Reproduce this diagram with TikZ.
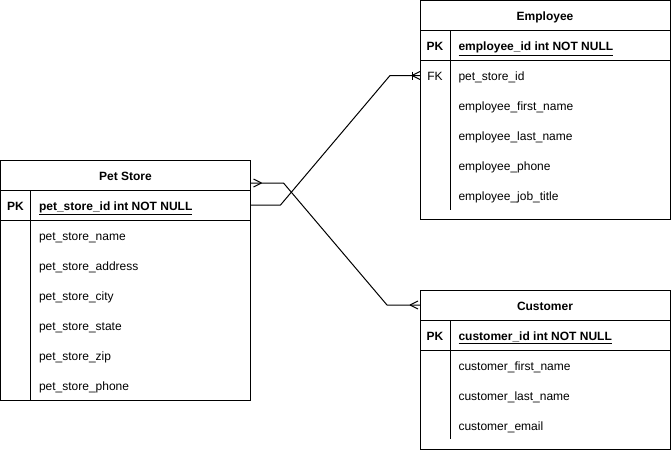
\documentclass[tikz,border=0pt]{standalone}
\usepackage{fontspec}
\setmainfont{Liberation Sans}
\usetikzlibrary{positioning,calc}
\tikzset{
txt/.style = {font=\fontsize{9}{11}\selectfont, inner sep=0pt, text height=8pt, text depth=0.4pt},
bold/.style = {font=\fontsize{9}{11}\selectfont\bfseries, inner sep=0pt, text height=8pt, text depth=0.4pt},
head/.style = {draw, rectangle, bold, outer sep=0pt, minimum width=187.5pt, minimum height=22.5pt},
keyrow/.style = {draw, rectangle, outer sep=0pt, inner sep=0pt, minimum width=187.5pt, minimum height=22.5pt},
body/.style = {draw, rectangle, outer sep=0pt, inner sep=0pt, minimum width=187.5pt},
field/.style = {anchor=west},
crowfoot/.pic = {\draw (0,0) -- (8,-4) (0,0) -- (8,4);}
}
\begin{document}
\begin{tikzpicture}[x=0.75pt, y=-0.75pt, line width=0.75pt]
\useasboundingbox (0,0) rectangle (671,451);
% Pet Store
\node[head] (pstitle) at (125.5,175) {Pet Store};
\node[keyrow, below=0pt of pstitle] (pspk) {};
\node[body, below=0pt of pspk, minimum height=135pt] (psbody) {};
\draw ($(pspk.north west)+(30,0)$) -- ($(psbody.south west)+(30,0)$);
\node[bold] (pskey) at ($(pspk.west)+(15,0)$) {PK};
\node[bold, field] (psid) at ($(pspk.west)+(38,0)$) {\underline{pet\_store\_id int NOT NULL}};
\foreach \f [count=\i] in {pet\_store\_name, pet\_store\_address, pet\_store\_city, pet\_store\_state, pet\_store\_zip, pet\_store\_phone}
  \node[txt, field] (psf\i) at ($(psbody.north west)+(38,30*\i-15)$) {\f};
% Employee
\node[head] (emtitle) at (545,15.5) {Employee};
\node[keyrow, below=0pt of emtitle] (empk) {};
\node[body, below=0pt of empk, minimum height=119.25pt] (embody) {};
\draw ($(empk.north west)+(30,0)$) -- ($(embody.south west)+(30,-10)$);
\node[bold] (emkey) at ($(empk.west)+(15,0)$) {PK};
\node[bold, field] (emid) at ($(empk.west)+(38,0)$) {\underline{employee\_id int NOT NULL}};
\node[txt] (emfk) at ($(embody.north west)+(15,15)$) {FK};
\foreach \f [count=\i] in {pet\_store\_id, employee\_first\_name, employee\_last\_name, employee\_phone, employee\_job\_title}
  \node[txt, field] (emf\i) at ($(embody.north west)+(38,30*\i-15)$) {\f};
% Customer
\node[head] (cutitle) at (545,305) {Customer};
\node[keyrow, below=0pt of cutitle] (cupk) {};
\node[body, below=0pt of cupk, minimum height=74.25pt] (cubody) {};
\draw ($(cupk.north west)+(30,0)$) -- ($(cubody.south west)+(30,-10)$);
\node[bold] (cukey) at ($(cupk.west)+(15,0)$) {PK};
\node[bold, field] (cuid) at ($(cupk.west)+(38,0)$) {\underline{customer\_id int NOT NULL}};
\foreach \f [count=\i] in {customer\_first\_name, customer\_last\_name, customer\_email}
  \node[txt, field] (cuf\i) at ($(cubody.north west)+(38,30*\i-15)$) {\f};
% relations
\coordinate (psout) at ($(pstitle.east)+(0,8)$);
\coordinate (emin) at (emfk -| embody.west);
\draw (pspk.east) -- ++(30,0) -- ($(emin)+(-30,0)$) -- (emin);
\pic at ($(emin)+(-8,0)$) {crowfoot};
\draw ($(emin)+(-8,-4)$) -- ($(emin)+(-8,4)$);
\draw (psout) -- ++(33,0) -- ($(cutitle.west)+(-33,0)$) -- (cutitle.west);
\pic at ($(cutitle.west)+(-10,0)$) {crowfoot};
\pic[rotate=180] at ($(psout)+(11,0)$) {crowfoot};
\end{tikzpicture}
\end{document}
